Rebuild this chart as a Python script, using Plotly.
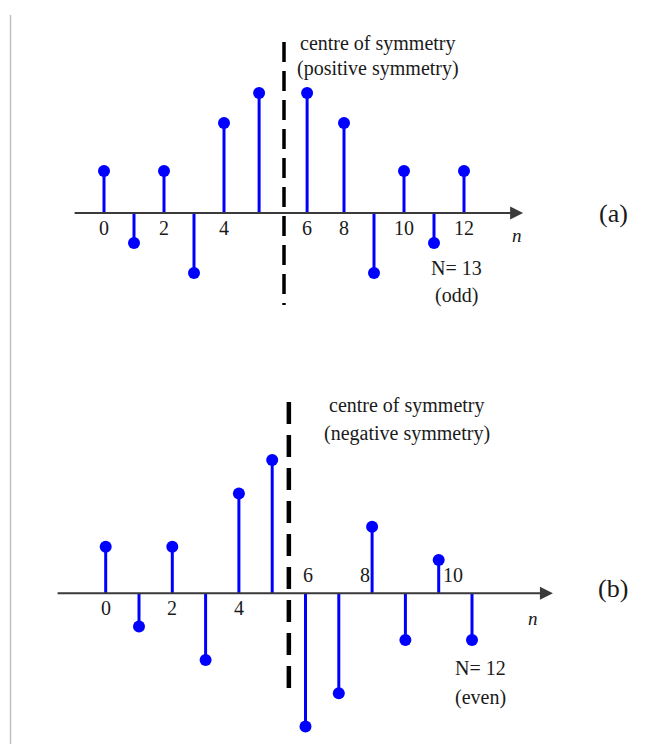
import plotly.graph_objects as go

# ---- data ----
# panel (a): N = 13, positive symmetry
n_a = [0, 1, 2, 3, 4, 5.17, 6.77, 8, 9, 10, 11, 12]
h_a = [1.4, -1, 1.4, -2, 3, 4, 4, 3, -2, 1.4, -1, 1.4]
tick_pos_a = [0, 2, 4, 6.77, 8, 10, 12]
tick_lbl_a = ["0", "2", "4", "6", "8", "10", "12"]
centre_a = 6.0

# panel (b): N = 12, negative symmetry
n_b = [0, 1, 2, 3, 4, 5, 6, 7, 8, 9, 10, 11]
h_b = [1.4, -1, 1.4, -2, 3, 4, -4, -3, 2, -1.4, 1, -1.4]
tick_pos_b = [0, 2, 4, 6, 8, 10]
tick_lbl_b = ["0", "2", "4", "6", "8", "10"]
tick_above_b = [False, False, False, True, True, True]
centre_b = 5.5

W, H = 670, 744
BLUE = "#0000FF"
AX = "#3a3a3a"
TXT = "#1a1a1a"
SERIF = "Liberation Serif, Times New Roman, serif"

fig = go.Figure()


def stems(xs, ys):
    sx, sy = [], []
    for x, y in zip(xs, ys):
        sx += [x, x, None]
        sy += [0, y, None]
    return sx, sy


for xs, ys, xa, ya in [(n_a, h_a, "x", "y"), (n_b, h_b, "x2", "y2")]:
    sx, sy = stems(xs, ys)
    fig.add_trace(go.Scatter(x=sx, y=sy, mode="lines", xaxis=xa, yaxis=ya,
                             line=dict(color=BLUE, width=3), hoverinfo="skip"))
    fig.add_trace(go.Scatter(x=xs, y=ys, mode="markers", xaxis=xa, yaxis=ya,
                             marker=dict(color=BLUE, size=12, line=dict(width=0))))

# axis geometry (pixels -> data): panel a 30 px/unit, origin at px 104, axis at py 213
sa, ox_a, oy_a = 30.0, 104.0, 213.0
sb, ox_b, oy_b = 33.3, 105.7, 593.3
fig.update_layout(
    width=W, height=H, margin=dict(l=0, r=0, t=0, b=0),
    paper_bgcolor="white", plot_bgcolor="white", showlegend=False,
    xaxis=dict(domain=[0, 1], range=[-ox_a / sa, (W - ox_a) / sa], visible=False, anchor="y"),
    yaxis=dict(domain=[0.5, 1], range=[-(372 - oy_a) / sa, oy_a / sa], visible=False, anchor="x"),
    xaxis2=dict(domain=[0, 1], range=[-ox_b / sb, (W - ox_b) / sb], visible=False, anchor="y2"),
    yaxis2=dict(domain=[0, 0.5], range=[-(H - oy_b) / sb, (oy_b - 372) / sb], visible=False, anchor="x2"),
)

# left grey border line
fig.add_shape(type="line", xref="paper", yref="paper", x0=10.5 / W, x1=10.5 / W,
              y0=0, y1=1 - 15 / H, line=dict(color="#c0c0c0", width=1.5))

# horizontal axes with arrows
for (xa, ya, x0, x1) in [("x", "y", -1.03, 13.97), ("x2", "y2", -1.49, 13.43)]:
    fig.add_annotation(x=x1, y=0, ax=x0, ay=0, xref=xa, yref=ya, axref=xa, ayref=ya,
                       showarrow=True, arrowhead=2, arrowsize=1.3, arrowwidth=2,
                       arrowcolor=AX, text="")

# dashed centre lines
fig.add_shape(type="line", xref="x", yref="y", x0=centre_a, x1=centre_a,
              y0=(oy_a - 42) / sa, y1=-(305 - oy_a) / sa,
              line=dict(color="black", width=3.5, dash="20px,9px"))
fig.add_shape(type="line", xref="x2", yref="y2", x0=centre_b, x1=centre_b,
              y0=(oy_b - 402) / sb, y1=-(693 - oy_b) / sb,
              line=dict(color="black", width=4.5, dash="22px,11px"))

FS = 20
# tick labels
for p, l in zip(tick_pos_a, tick_lbl_a):
    fig.add_annotation(x=p, y=-(228 - oy_a) / sa, xref="x", yref="y", text=l, showarrow=False,
                       font=dict(family=SERIF, size=FS, color=TXT))
for p, l, up in zip(tick_pos_b, tick_lbl_b, tick_above_b):
    py = 575 if up else 608
    dx = {6: 2.3, 8: -7.3, 10: 14.7}.get(p, 0) / sb
    fig.add_annotation(x=p + dx, y=(oy_b - py) / sb, xref="x2", yref="y2", text=l, showarrow=False,
                       font=dict(family=SERIF, size=FS, color=TXT))

# n axis labels
fig.add_annotation(x=(517 - ox_a) / sa, y=-(235 - oy_a) / sa, xref="x", yref="y", text="<i>n</i>",
                   showarrow=False, font=dict(family=SERIF, size=19, color=TXT))
fig.add_annotation(x=(533 - ox_b) / sb, y=-(618 - oy_b) / sb, xref="x2", yref="y2", text="<i>n</i>",
                   showarrow=False, font=dict(family=SERIF, size=19, color=TXT))

# texts
def txt(x, y, s, size=FS, xa="x", ya="y"):
    fig.add_annotation(x=x, y=y, xref=xa, yref=ya, text=s, showarrow=False,
                       font=dict(family=SERIF, size=size, color=TXT))

txt((378 - ox_a) / sa, (oy_a - 43) / sa, "centre of symmetry")
txt((378 - ox_a) / sa, (oy_a - 68) / sa, "(positive symmetry)")
txt((456 - ox_a) / sa, -(268 - oy_a) / sa, "N= 13")
txt((456 - ox_a) / sa, -(295 - oy_a) / sa, "(odd)")
txt((613 - ox_a) / sa, 0, "(a)", size=26)

txt((407 - ox_b) / sb, (oy_b - 405) / sb, "centre of symmetry", xa="x2", ya="y2")
txt((407 - ox_b) / sb, (oy_b - 433) / sb, "(negative symmetry)", xa="x2", ya="y2")
txt((480 - ox_b) / sb, -(668 - oy_b) / sb, "N= 12", xa="x2", ya="y2")
txt((480 - ox_b) / sb, -(697 - oy_b) / sb, "(even)", xa="x2", ya="y2")
txt((613 - ox_b) / sb, (oy_b - 588) / sb, "(b)", size=26, xa="x2", ya="y2")

fig.write_html("out.html")
